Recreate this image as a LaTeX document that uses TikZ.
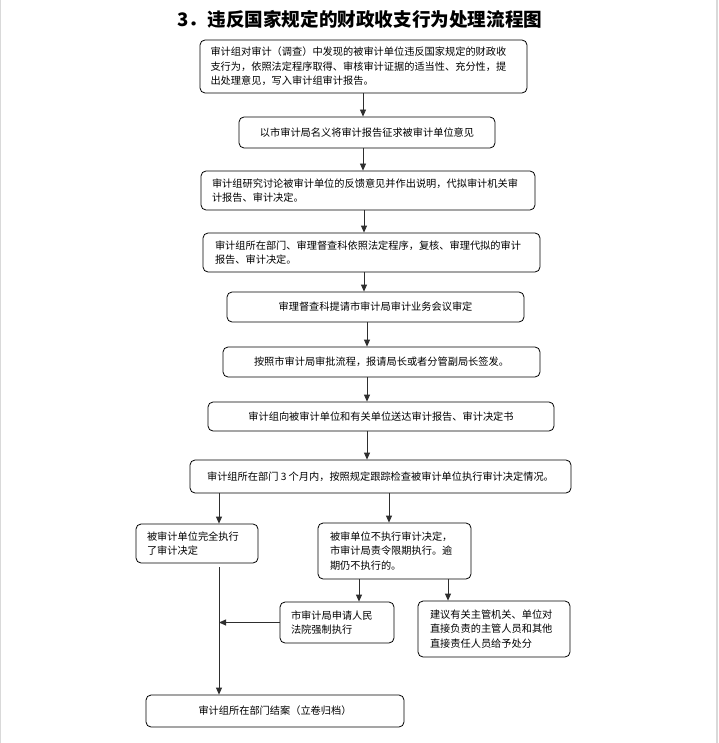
\documentclass[tikz,border=0pt]{standalone}
\usepackage{fontspec}
\usepackage{tikz}
\usetikzlibrary{arrows.meta,positioning}
\newfontfamily\cjk{Noto Sans CJK SC}
\definecolor{lineGray}{HTML}{2E2E2E}
\definecolor{edgeGray}{HTML}{D9D9D9}

\begin{document}
\begin{tikzpicture}[x=1pt,y=-1pt,
  flowbox/.style={draw, rounded corners=5pt, line width=0.8pt, inner sep=0pt, align=left,
    font=\cjk\fontsize{10.2}{14.5}\selectfont},
  midbox/.style={flowbox, align=center},
  arr/.style={lineGray, line width=0.8pt, -{Triangle[width=6pt,length=7pt]}}]
\useasboundingbox (0,0) rectangle (718,743);
% page edges
\draw[edgeGray, line width=1pt] (0.5,0) -- (0.5,743);
\draw[edgeGray, line width=2pt] (716.5,0) -- (716.5,743);
% title
\node (title) at (360,19) {\cjk\bfseries\fontsize{18.6}{20}\selectfont 3．违反国家规定的财政收支行为处理流程图};
% main column
\node[flowbox, minimum width=327, minimum height=53, text width=306] (b1) at (363.5,66.5)
  {审计组对审计（调查）中发现的被审计单位违反国家规定的财政收\\支行为，依照法定程序取得、审核审计证据的适当性、充分性，提\\出处理意见，写入审计组审计报告。};
\node[midbox, minimum width=256, minimum height=31] (b2) at (367,132.5)
  {以市审计局名义将审计报告征求被审计单位意见};
\node[flowbox, minimum width=334, minimum height=39, text width=312] (b3) at (368,190.5)
  {审计组研究讨论被审计单位的反馈意见并作出说明，代拟审计机关审\\计报告、审计决定。};
\node[flowbox, minimum width=337, minimum height=39, text width=313] (b4) at (371.5,252.5)
  {审计组所在部门、审理督查科依照法定程序，复核、审理代拟的审计\\报告、审计决定。};
\node[midbox, minimum width=297, minimum height=30] (b5) at (375.5,307)
  {审理督查科提请市审计局审计业务会议审定};
\node[midbox, minimum width=317, minimum height=30] (b6) at (381.5,362)
  {按照市审计局审批流程，报请局长或者分管副局长签发。};
\node[midbox, minimum width=346, minimum height=29] (b7) at (381,416.5)
  {审计组向被审计单位和有关单位送达审计报告、审计决定书};
\node[midbox, minimum width=381, minimum height=33] (b8) at (380.5,476.5)
  {审计组所在部门 3 个月内，按照规定跟踪检查被审计单位执行审计决定情况。};
% branches
\node[flowbox, minimum width=122, minimum height=39, text width=100] (b9) at (197,543.5)
  {被审计单位完全执行\\了审计决定};
\node[flowbox, minimum width=153, minimum height=56, text width=129] (b10) at (394.5,551)
  {被审单位不执行审计决定，\\市审计局责令限期执行。逾\\期仍不执行的。};
\node[flowbox, minimum width=114, minimum height=41, text width=92] (b11) at (337,622.5)
  {市审计局申请人民\\法院强制执行};
\node[flowbox, minimum width=152, minimum height=56, text width=128] (b12) at (494,629)
  {建议有关主管机关、单位对\\直接负责的主管人员和其他\\直接责任人员给予处分};
\node[midbox, minimum width=258, minimum height=32] (b13) at (275,711)
  {审计组所在部门结案（立卷归档）};
% arrow columns
\coordinate (colA) at (363,0);
\coordinate (colB) at (364,0);
\coordinate (colC) at (367,0);
\coordinate (lft) at (219,0);
\coordinate (rgt) at (389,0);
\coordinate (dnA) at (359,0);
\coordinate (dnB) at (448,0);
\draw[arr] (b1.south -| colA) -- (b2.north -| colA);
\draw[arr] (b2.south -| colA) -- (b3.north -| colA);
\draw[arr] (b3.south -| colB) -- (b4.north -| colB);
\draw[arr] (b4.south -| colB) -- (b5.north -| colB);
\draw[arr] (b5.south -| colC) -- (b6.north -| colC);
\draw[arr] (b6.south -| colC) -- (b7.north -| colC);
\draw[arr] (b7.south -| colC) -- (b8.north -| colC);
\draw[arr] (b8.south -| lft) -- (b9.north -| lft);
\draw[arr] (b8.south -| rgt) -- (b10.north -| rgt);
\draw[arr] (b10.south -| dnA) -- (b11.north -| dnA);
\draw[arr] (b10.south -| dnB) -- (b12.north -| dnB);
\draw[arr] (b11.west) -- (b11.west -| lft);
\draw[arr] ([yshift=-4pt]b9.south -| lft) -- (b13.north -| lft);
\end{tikzpicture}
\end{document}
